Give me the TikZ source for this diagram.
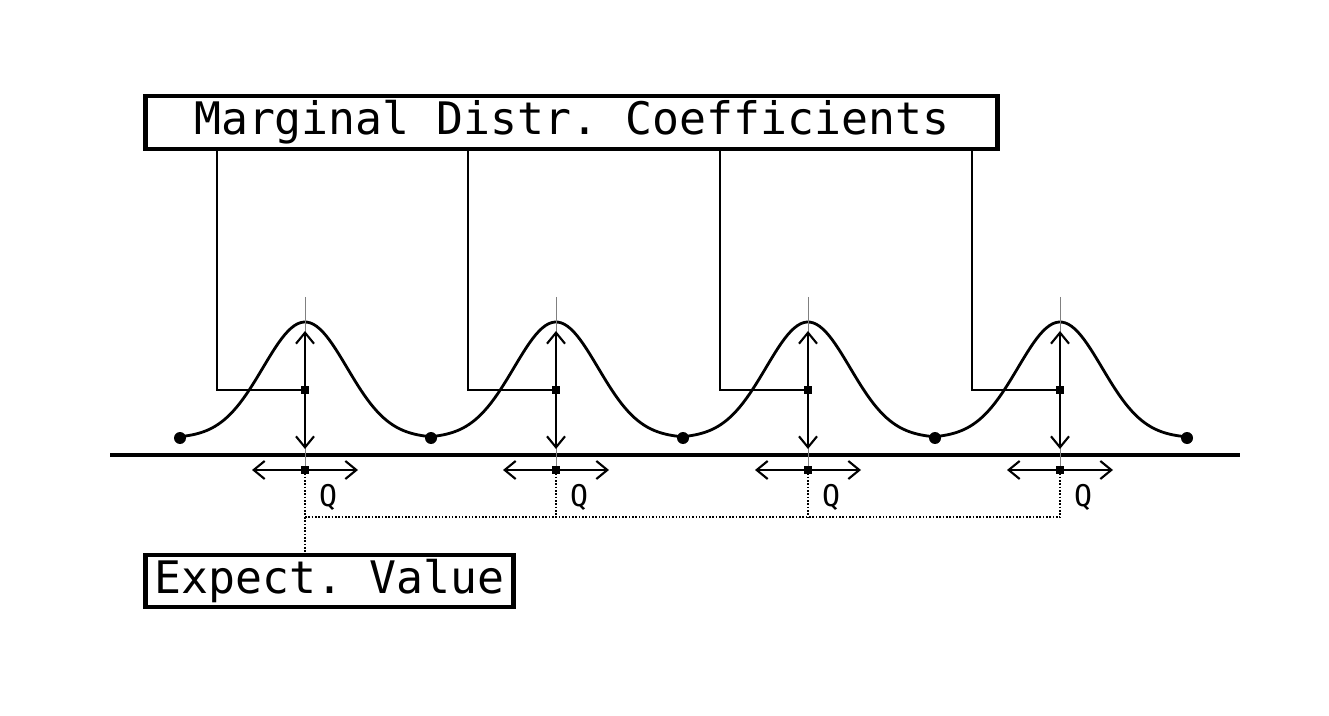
\documentclass[tikz,border=0pt]{standalone}
\usepackage{fontspec}
\setmonofont{DejaVu Sans Mono}
\usetikzlibrary{arrows.meta,positioning,calc}
\tikzset{
  lbox/.style={draw, line width=2.8pt, inner sep=0pt,
    font=\ttfamily\fontsize{25.5}{30}\selectfont},
  bump/.style={line width=1.6pt},
  conn/.style={line width=1.1pt},
  guide/.style={gray, line width=0.5pt},
  sqmark/.style={fill, rectangle, minimum size=0.16cm, inner sep=0pt},
  endpt/.style={fill, circle, minimum size=0.24cm, inner sep=0pt},
  dbl/.style={{Straight Barb[length=2.2mm,width=3.6mm]}-{Straight Barb[length=2.2mm,width=3.6mm]},
    line width=1.2pt},
  qlabel/.style={font=\ttfamily\fontsize{17}{20}\selectfont, inner sep=0pt},
}
\begin{document}
\begin{tikzpicture}[x=0.02cm, y=-0.02cm]
  \useasboundingbox (0,0) rectangle (1329,716);
  % label boxes
  \node[lbox, minimum width=17.05cm, minimum height=1.06cm] (coef) at (571.7,122.5) {Marginal Distr. Coefficients};
  \node[lbox, minimum width=7.36cm, minimum height=1.04cm] (expval) at (329.5,581) {Expect. Value};
  % axis
  \coordinate (axl) at (110,455);
  \coordinate (axr) at (1240,455);
  \draw[line width=2.4pt] (axl) -- (axr);
  % one bump per coefficient
  \foreach \c [count=\i] in {305,556,808,1060} {
    \draw[bump] plot[domain=-125:126, samples=80] ({\c+\x},{438-116*exp(-0.5*(\x/42)*(\x/42))});
    \node[endpt] (lft\i) at (\c-125,438) {};
    \coordinate (tip\i) at (\c,297);
    \coordinate (peak\i) at (\c,331);
    \coordinate (foot\i) at (\c,449);
    \coordinate (ql\i) at (\c-53,470);
    \coordinate (qr\i) at (\c+53,470);
    \coordinate (knee\i) at (\c-88,390);
    \coordinate (dot\i) at (\c,517);
    \draw[guide] (tip\i) -- (\c,470);
    \draw[dbl] (foot\i) -- (peak\i);
    \draw[dbl] (ql\i) -- (qr\i);
    \node[sqmark] (mid\i) at (\c,390) {};
    \node[sqmark] (low\i) at (\c,470) {};
    \draw[conn] (mid\i.center) -- (knee\i) -- (knee\i |- coef.south);
    \draw[densely dotted, line width=0.9pt] (low\i.center) -- (dot\i);
    \node[qlabel] (q\i) at (\c+23,497) {Q};
  }
  \node[endpt] (rgt) at (1187,438) {};
  % expectation link
  \draw[densely dotted, line width=0.9pt] (dot1) -- (dot4);
  \draw[densely dotted, line width=0.9pt] (dot1) -- (dot1 |- expval.north);
\end{tikzpicture}
\end{document}
